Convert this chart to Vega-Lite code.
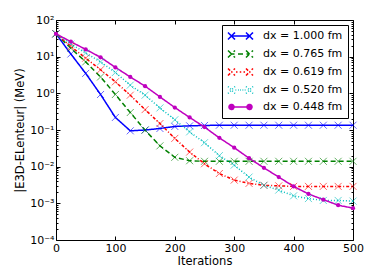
{
  "$schema": "https://vega.github.io/schema/vega-lite/v6.json",
  "width": 297,
  "height": 220,
  "autosize": {"type": "none"},
  "padding": {"left": 56, "top": 20, "right": 21, "bottom": 40},
  "datasets": {
    "d": [
      {"s": "dx = 1.000 fm", "it": 0, "v": 42}, {"s": "dx = 1.000 fm", "it": 25, "v": 11.8}, {"s": "dx = 1.000 fm", "it": 50, "v": 3.5}, {"s": "dx = 1.000 fm", "it": 75, "v": 0.93}, {"s": "dx = 1.000 fm", "it": 100, "v": 0.22}, {"s": "dx = 1.000 fm", "it": 125, "v": 0.095}, {"s": "dx = 1.000 fm", "it": 150, "v": 0.1}, {"s": "dx = 1.000 fm", "it": 175, "v": 0.11}, {"s": "dx = 1.000 fm", "it": 200, "v": 0.125}, {"s": "dx = 1.000 fm", "it": 225, "v": 0.13}, {"s": "dx = 1.000 fm", "it": 250, "v": 0.133}, {"s": "dx = 1.000 fm", "it": 275, "v": 0.135}, {"s": "dx = 1.000 fm", "it": 300, "v": 0.135}, {"s": "dx = 1.000 fm", "it": 325, "v": 0.135}, {"s": "dx = 1.000 fm", "it": 350, "v": 0.135}, {"s": "dx = 1.000 fm", "it": 375, "v": 0.135}, {"s": "dx = 1.000 fm", "it": 400, "v": 0.135}, {"s": "dx = 1.000 fm", "it": 425, "v": 0.135}, {"s": "dx = 1.000 fm", "it": 450, "v": 0.135}, {"s": "dx = 1.000 fm", "it": 475, "v": 0.135}, {"s": "dx = 1.000 fm", "it": 500, "v": 0.135},
      {"s": "dx = 0.765 fm", "it": 0, "v": 42}, {"s": "dx = 0.765 fm", "it": 25, "v": 17}, {"s": "dx = 0.765 fm", "it": 50, "v": 7.2}, {"s": "dx = 0.765 fm", "it": 75, "v": 2.8}, {"s": "dx = 0.765 fm", "it": 100, "v": 0.93}, {"s": "dx = 0.765 fm", "it": 125, "v": 0.3}, {"s": "dx = 0.765 fm", "it": 150, "v": 0.099}, {"s": "dx = 0.765 fm", "it": 175, "v": 0.037}, {"s": "dx = 0.765 fm", "it": 200, "v": 0.018}, {"s": "dx = 0.765 fm", "it": 225, "v": 0.0145}, {"s": "dx = 0.765 fm", "it": 250, "v": 0.014}, {"s": "dx = 0.765 fm", "it": 275, "v": 0.014}, {"s": "dx = 0.765 fm", "it": 300, "v": 0.014}, {"s": "dx = 0.765 fm", "it": 325, "v": 0.014}, {"s": "dx = 0.765 fm", "it": 350, "v": 0.014}, {"s": "dx = 0.765 fm", "it": 375, "v": 0.014}, {"s": "dx = 0.765 fm", "it": 400, "v": 0.014}, {"s": "dx = 0.765 fm", "it": 425, "v": 0.014}, {"s": "dx = 0.765 fm", "it": 450, "v": 0.014}, {"s": "dx = 0.765 fm", "it": 475, "v": 0.014}, {"s": "dx = 0.765 fm", "it": 500, "v": 0.014},
      {"s": "dx = 0.619 fm", "it": 0, "v": 42}, {"s": "dx = 0.619 fm", "it": 25, "v": 19}, {"s": "dx = 0.619 fm", "it": 50, "v": 9.1}, {"s": "dx = 0.619 fm", "it": 75, "v": 4.4}, {"s": "dx = 0.619 fm", "it": 100, "v": 2.06}, {"s": "dx = 0.619 fm", "it": 125, "v": 0.89}, {"s": "dx = 0.619 fm", "it": 150, "v": 0.36}, {"s": "dx = 0.619 fm", "it": 175, "v": 0.15}, {"s": "dx = 0.619 fm", "it": 200, "v": 0.059}, {"s": "dx = 0.619 fm", "it": 225, "v": 0.025}, {"s": "dx = 0.619 fm", "it": 250, "v": 0.012}, {"s": "dx = 0.619 fm", "it": 275, "v": 0.0065}, {"s": "dx = 0.619 fm", "it": 300, "v": 0.0043}, {"s": "dx = 0.619 fm", "it": 325, "v": 0.0035}, {"s": "dx = 0.619 fm", "it": 350, "v": 0.0031}, {"s": "dx = 0.619 fm", "it": 375, "v": 0.003}, {"s": "dx = 0.619 fm", "it": 400, "v": 0.0029}, {"s": "dx = 0.619 fm", "it": 425, "v": 0.0029}, {"s": "dx = 0.619 fm", "it": 450, "v": 0.0029}, {"s": "dx = 0.619 fm", "it": 475, "v": 0.0029}, {"s": "dx = 0.619 fm", "it": 500, "v": 0.0029},
      {"s": "dx = 0.520 fm", "it": 0, "v": 42}, {"s": "dx = 0.520 fm", "it": 25, "v": 22}, {"s": "dx = 0.520 fm", "it": 50, "v": 12.6}, {"s": "dx = 0.520 fm", "it": 75, "v": 7.2}, {"s": "dx = 0.520 fm", "it": 100, "v": 3.7}, {"s": "dx = 0.520 fm", "it": 125, "v": 1.67}, {"s": "dx = 0.520 fm", "it": 150, "v": 0.89}, {"s": "dx = 0.520 fm", "it": 175, "v": 0.4}, {"s": "dx = 0.520 fm", "it": 200, "v": 0.19}, {"s": "dx = 0.520 fm", "it": 225, "v": 0.089}, {"s": "dx = 0.520 fm", "it": 250, "v": 0.045}, {"s": "dx = 0.520 fm", "it": 275, "v": 0.02}, {"s": "dx = 0.520 fm", "it": 300, "v": 0.011}, {"s": "dx = 0.520 fm", "it": 325, "v": 0.0052}, {"s": "dx = 0.520 fm", "it": 350, "v": 0.0031}, {"s": "dx = 0.520 fm", "it": 375, "v": 0.0023}, {"s": "dx = 0.520 fm", "it": 400, "v": 0.0016}, {"s": "dx = 0.520 fm", "it": 425, "v": 0.00135}, {"s": "dx = 0.520 fm", "it": 450, "v": 0.0012}, {"s": "dx = 0.520 fm", "it": 475, "v": 0.0012}, {"s": "dx = 0.520 fm", "it": 500, "v": 0.00115},
      {"s": "dx = 0.448 fm", "it": 0, "v": 42}, {"s": "dx = 0.448 fm", "it": 25, "v": 25.6}, {"s": "dx = 0.448 fm", "it": 50, "v": 15.8}, {"s": "dx = 0.448 fm", "it": 75, "v": 9.6}, {"s": "dx = 0.448 fm", "it": 100, "v": 5.1}, {"s": "dx = 0.448 fm", "it": 125, "v": 2.8}, {"s": "dx = 0.448 fm", "it": 150, "v": 1.57}, {"s": "dx = 0.448 fm", "it": 175, "v": 0.8}, {"s": "dx = 0.448 fm", "it": 200, "v": 0.41}, {"s": "dx = 0.448 fm", "it": 225, "v": 0.22}, {"s": "dx = 0.448 fm", "it": 250, "v": 0.12}, {"s": "dx = 0.448 fm", "it": 275, "v": 0.061}, {"s": "dx = 0.448 fm", "it": 300, "v": 0.033}, {"s": "dx = 0.448 fm", "it": 325, "v": 0.017}, {"s": "dx = 0.448 fm", "it": 350, "v": 0.0093}, {"s": "dx = 0.448 fm", "it": 375, "v": 0.0052}, {"s": "dx = 0.448 fm", "it": 400, "v": 0.0029}, {"s": "dx = 0.448 fm", "it": 425, "v": 0.0018}, {"s": "dx = 0.448 fm", "it": 450, "v": 0.00126}, {"s": "dx = 0.448 fm", "it": 475, "v": 0.00089}, {"s": "dx = 0.448 fm", "it": 500, "v": 0.00074}
    ]
  },
  "data": {"name": "d"},
  "config": {
    "font": "DejaVu Sans",
    "view": {"stroke": "black", "strokeWidth": 1},
    "axis": {"grid": false, "domainColor": "black", "tickColor": "black", "labelColor": "black", "titleColor": "black", "labelFontSize": 11, "titleFontSize": 11.5, "titleFontWeight": "normal", "labelFont": "DejaVu Sans", "titleFont": "DejaVu Sans"},
    "legend": {"labelFont": "DejaVu Sans", "labelColor": "black", "labelFontSize": 11}
  },
  "resolve": {"axis": {"x": "independent", "y": "independent"}},
  "encoding": {
    "x": {"field": "it", "type": "quantitative", "scale": {"domain": [0, 500], "nice": false}, "axis": null},
    "y": {"field": "v", "type": "quantitative", "scale": {"type": "log", "domain": [0.0001, 100], "nice": false}, "axis": null},
    "color": {
      "field": "s", "type": "nominal",
      "scale": {"domain": ["dx = 1.000 fm", "dx = 0.765 fm", "dx = 0.619 fm", "dx = 0.520 fm", "dx = 0.448 fm"], "range": ["#0000ff", "#008000", "#ff0000", "#00bfbf", "#bf00bf"]}
    }
  },
  "layer": [
    {
      "mark": {"type": "line", "strokeWidth": 1.5},
      "encoding": {
        "x": {"field": "it", "type": "quantitative", "scale": {"domain": [0, 500], "nice": false},
          "axis": {"values": [0, 100, 200, 300, 400, 500], "title": "Iterations", "tickSize": -4, "labelPadding": 6, "titlePadding": 2, "domain": false, "labelFlush": false}},
        "y": {"field": "v", "type": "quantitative", "scale": {"type": "log", "domain": [0.0001, 100], "nice": false},
          "axis": {
            "values": [0.0001, 0.0002, 0.0003, 0.0004, 0.0005, 0.0006, 0.0007, 0.0008, 0.0009, 0.001, 0.002, 0.003, 0.004, 0.005, 0.006, 0.007, 0.008, 0.009, 0.01, 0.02, 0.03, 0.04, 0.05, 0.06, 0.07, 0.08, 0.09, 0.1, 0.2, 0.3, 0.4, 0.5, 0.6, 0.7, 0.8, 0.9, 1, 2, 3, 4, 5, 6, 7, 8, 9, 10, 20, 30, 40, 50, 60, 70, 80, 90, 100],
            "labelExpr": "abs(log(datum.value)/LN10 - round(log(datum.value)/LN10)) < 0.001 ? '10' + ['⁻⁴','⁻³','⁻²','⁻¹','⁰','¹','²'][round(log(datum.value)/LN10)+4] : ''",
            "labelOverlap": false,
            "labelFlush": false,
            "tickSize": {"condition": {"test": "abs(log(datum.value)/LN10 - round(log(datum.value)/LN10)) < 0.001", "value": -4}, "value": -2},
            "labelPadding": 6,
            "domain": false,
            "title": "|E3D-ELenteur| (MeV)",
            "titlePadding": 4
          }},
        "color": {
          "field": "s", "type": "nominal",
          "scale": {"domain": ["dx = 1.000 fm", "dx = 0.765 fm", "dx = 0.619 fm", "dx = 0.520 fm", "dx = 0.448 fm"], "range": ["#0000ff", "#008000", "#ff0000", "#00bfbf", "#bf00bf"]},
          "legend": {
            "title": null, "orient": "top-right", "offset": 5, "padding": 5,
            "strokeColor": "black", "fillColor": "white", "cornerRadius": 0,
            "symbolSize": 100, "symbolStrokeWidth": 1.5, "symbolType": "stroke",
            "rowPadding": 4, "labelOffset": 24, "labelFontSize": 11,
            "encode": {"symbols": {"update": {
              "shape": {"signal": "['M-1,-0.7L0.4,0.7M-1,0.7L0.4,-0.7M2.6,-0.7L4,0.7M2.6,0.7L4,-0.7M-0.3,0H3.3', 'M-1,-0.7L0.4,0.7M-1,0.7L0.4,-0.7M2.6,-0.7L4,0.7M2.6,0.7L4,-0.7M-0.3,0H0.3M1.0,0H2.0M2.7,0H3.3', 'M-1,-0.7L0.4,0.7M-1,0.7L0.4,-0.7M2.6,-0.7L4,0.7M2.6,0.7L4,-0.7M0.6,0H0.9M1.35,0H1.65M2.1,0H2.4', 'M-1,-0.7L0.4,0.7M-1,0.7L0.4,-0.7M2.6,-0.7L4,0.7M2.6,0.7L4,-0.7M0.5,0H0.65M1.0,0H1.15M1.45,0H1.6M1.9,0H2.05M2.35,0H2.5', 'M-0.4,0H3.4M0.2,0A0.5,0.5 0 1,1 -0.8,0A0.5,0.5 0 1,1 0.2,0M3.8,0A0.5,0.5 0 1,1 2.8,0A0.5,0.5 0 1,1 3.8,0'][datum.index]"},
              "fill": {"signal": "scale('color', datum.value)"},
              "strokeDash": {"value": [1, 0]}
            }}}
          }
        },
        "strokeDash": {
          "field": "s", "type": "nominal", "legend": null,
          "scale": {"domain": ["dx = 1.000 fm", "dx = 0.765 fm", "dx = 0.619 fm", "dx = 0.520 fm", "dx = 0.448 fm"], "range": [[1, 0], [5, 3], [3, 2, 1, 2], [1, 2], [1, 0]]}
        }
      }
    },
    {
      "transform": [{"filter": "datum.s !== 'dx = 0.448 fm'"}],
      "mark": {"type": "point", "shape": "M-1,-1L1,1M-1,1L1,-1", "filled": false, "size": 49, "strokeWidth": 1, "opacity": 0.6}
    },
    {
      "transform": [{"filter": "datum.s === 'dx = 0.448 fm'"}],
      "mark": {"type": "point", "shape": "circle", "filled": true, "size": 18, "opacity": 1},
      "encoding": {
        "x": {"field": "it", "type": "quantitative", "scale": {"domain": [0, 500], "nice": false},
          "axis": {"orient": "top", "values": [0, 100, 200, 300, 400, 500], "title": null, "labels": false, "tickSize": -4, "domain": false}},
        "y": {"field": "v", "type": "quantitative", "scale": {"type": "log", "domain": [0.0001, 100], "nice": false},
          "axis": {
            "orient": "right", "title": null, "labels": false, "domain": false,
            "values": [0.0001, 0.0002, 0.0003, 0.0004, 0.0005, 0.0006, 0.0007, 0.0008, 0.0009, 0.001, 0.002, 0.003, 0.004, 0.005, 0.006, 0.007, 0.008, 0.009, 0.01, 0.02, 0.03, 0.04, 0.05, 0.06, 0.07, 0.08, 0.09, 0.1, 0.2, 0.3, 0.4, 0.5, 0.6, 0.7, 0.8, 0.9, 1, 2, 3, 4, 5, 6, 7, 8, 9, 10, 20, 30, 40, 50, 60, 70, 80, 90, 100],
            "tickSize": {"condition": {"test": "abs(log(datum.value)/LN10 - round(log(datum.value)/LN10)) < 0.001", "value": -4}, "value": -2}
          }}
      }
    }
  ]
}
